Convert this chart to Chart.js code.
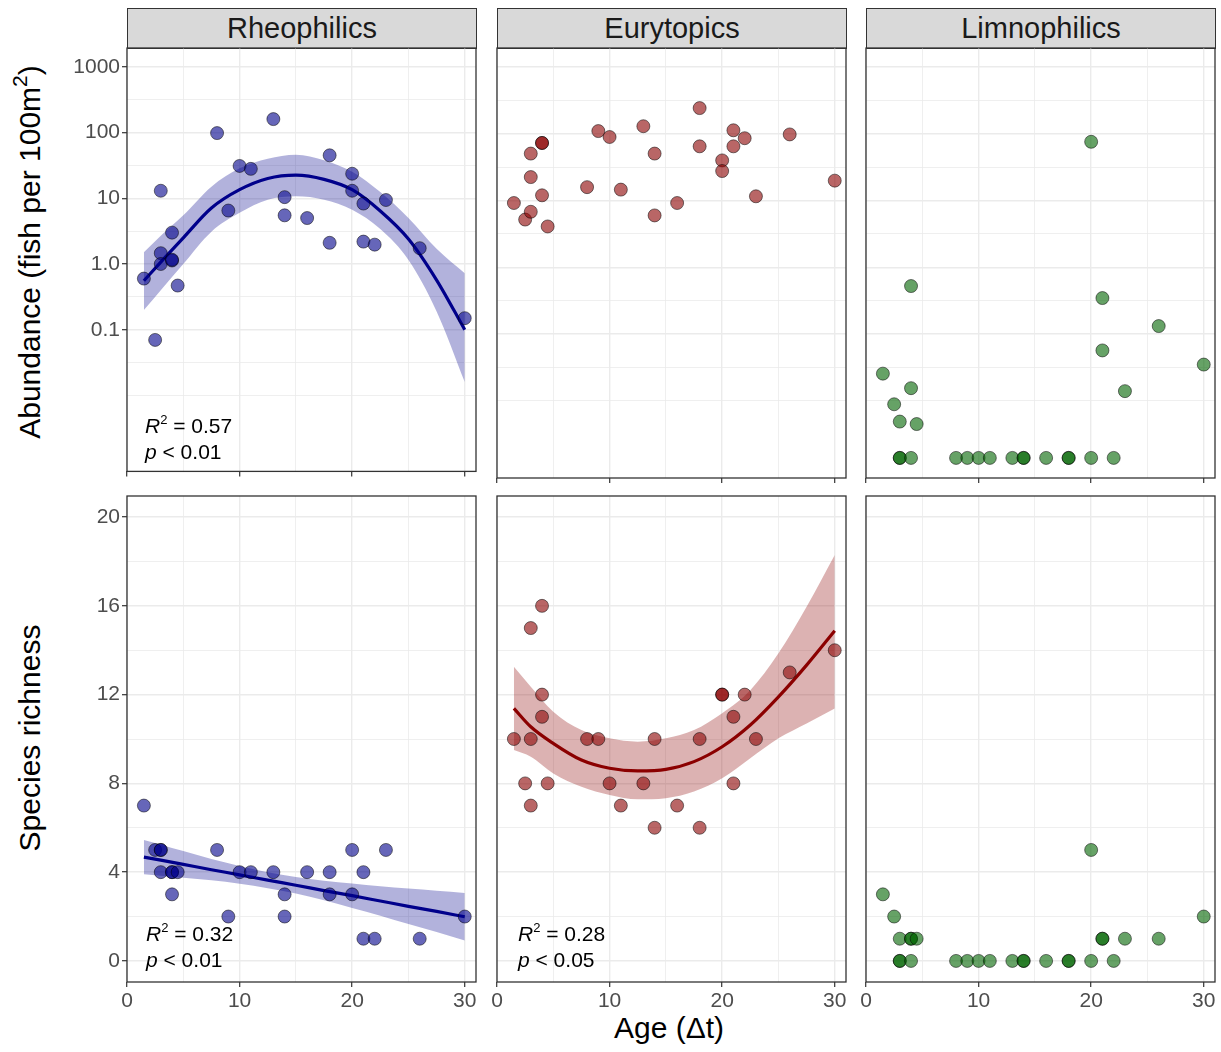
<!DOCTYPE html>
<html>
<head>
<meta charset="utf-8">
<script src="https://cdn.jsdelivr.net/npm/chart.js@4"></script>
<style>
  body { margin: 0; background: #fff; font-family: "Liberation Sans", Arial, sans-serif; }
  #fig { position: relative; width: 1221px; height: 1052px; overflow: hidden; background: #fff; }
  .strip { position: absolute; top: 8px; height: 41px; width: 350px; box-sizing: border-box;
           background: #d9d9d9; border: 1.3px solid #333; text-align: center;
           font-size: 29px; line-height: 39px; color: #1a1a1a; }
  .stat { position: absolute; font-size: 21px; line-height: 26px; color: #000; white-space: nowrap; }
  .stat sup { font-size: 13px; vertical-align: 9px; line-height: 0; }
  .ytitle { position: absolute; width: 500px; height: 40px; line-height: 40px; text-align: center;
            font-size: 30px; color: #000; transform: rotate(-90deg); white-space: nowrap; }
  .ytitle sup { font-size: 21px; vertical-align: 13px; line-height: 0; }
  .xtitle { position: absolute; font-size: 30px; color: #000; width: 300px; text-align: center; }
</style>
</head>
<body>
<div id="fig">
  <div class="strip" style="left:127px">Rheophilics</div>
  <div class="strip" style="left:497px">Eurytopics</div>
  <div class="strip" style="left:866px">Limnophilics</div>
  <div class="ytitle" style="left:-220px; top:232px">Abundance (fish per 100m<sup>2</sup>)</div>
  <div class="ytitle" style="left:-220px; top:718px">Species richness</div>
  <div class="xtitle" style="left:519px; top:1011px">Age (&Delta;t)</div>
</div>

<script>
// sites (age in years), same order for every group
const siteAges = [1.5, 2.5, 3, 3, 3, 4, 4, 4, 4.5, 8, 9, 10, 11, 13, 14, 14, 16, 18, 18, 20, 20, 21, 21, 22, 23, 26, 30];

// abundance, fish per 100 m2
const rheoAbundance = [0.60, 0.070, 13, 1.46, 1.0, 3.0, 1.13, 1.16, 0.47, 98, 6.5, 31, 28, 160, 10.4, 5.5, 5.0, 45, 2.1, 23.6, 13, 8.3, 2.19, 1.97, 9.4, 1.74, 0.15];
const euryAbundance = [9.2, 5.2, 6.8, 22.5, 50.6, 73, 73, 12, 4.1, 15.9, 110, 89.6, 14.6, 130, 50.6, 6.0, 9.2, 243, 65, 40, 27.7, 113, 65, 86, 11.6, 98, 19.9];
const limnoAbundance = [0.0256, 0.0089, 0.0049, 0, 0, 0.525, 0.0155, 0, 0.0045, 0, 0, 0, 0, 0, 0, 0, 0, 0, 0, 76, 0, 0.347, 0.057, 0, 0.014, 0.132, 0.035];

// species richness
const rheoRichness = [7, 5, 5, 5, 4, 4, 4, 3, 4, 5, 2, 4, 4, 4, 3, 2, 4, 4, 3, 5, 3, 4, 1, 1, 5, 1, 2];
const euryRichness = [10, 8, 15, 10, 7, 16, 12, 11, 8, 10, 10, 8, 7, 8, 10, 6, 7, 10, 6, 12, 12, 11, 8, 12, 10, 13, 14];
const limnoRichness = [3, 2, 1, 0, 0, 1, 1, 0, 1, 0, 0, 0, 0, 0, 0, 0, 0, 0, 0, 5, 0, 1, 1, 0, 1, 1, 2];

// fitted curves and 95% bands
const fitAges = [1.5, 3, 5, 7.5, 10, 12.5, 15, 17.5, 20, 22.5, 25, 27.5, 30];
const rheoAbundFit = [0.556, 1.07, 2.5, 7.1, 13.5, 20, 22.5, 19.4, 13.5, 6.4, 2.4, 0.57, 0.10];
const rheoAbundHigh = [1.51, 2.7, 5.5, 15, 28.5, 40, 46, 38, 25.3, 12.4, 5.0, 1.7, 0.72];
const rheoAbundLow = [0.20, 0.40, 1.0, 3.1, 6.0, 9.5, 10.7, 9.5, 6.7, 3.4, 1.15, 0.19, 0.016];
const rheoRichFit = [4.68, 4.54, 4.35, 4.11, 3.88, 3.64, 3.41, 3.17, 2.94, 2.70, 2.46, 2.23, 1.99];
const rheoRichHigh = [5.45, 5.24, 4.95, 4.59, 4.28, 4.00, 3.78, 3.61, 3.49, 3.36, 3.26, 3.16, 3.06];
const rheoRichLow = [3.91, 3.84, 3.75, 3.63, 3.48, 3.28, 3.04, 2.73, 2.39, 2.04, 1.66, 1.30, 0.92];
const euryRichFit = [11.38, 10.55, 9.8, 9.05, 8.68, 8.56, 8.63, 8.98, 9.65, 10.63, 11.9, 13.33, 14.88];
const euryRichHigh = [13.26, 12.36, 11.23, 10.4, 10.03, 9.88, 10.03, 10.4, 11.16, 12.2, 13.86, 15.96, 18.29];
const euryRichLow = [9.5, 9.2, 8.45, 7.85, 7.48, 7.28, 7.33, 7.63, 8.23, 9.13, 10.03, 10.7, 11.38];

// axes
const ageGrid = [0, 5, 10, 15, 20, 25, 30];
const ageLabels = ['0', '', '10', '', '20', '', '30'];
const abundGrid = [0.01, 0.0316, 0.1, 0.316, 1, 3.16, 10, 31.6, 100, 316, 1000];
const abundLabels = ['', '', '0.1', '', '1.0', '', '10', '', '100', '', '1000'];
const richGrid = [0, 2, 4, 6, 8, 10, 12, 14, 16, 18, 20];
const richLabels = ['0', '', '4', '', '8', '', '12', '', '16', '', '20'];
// zeros sit here on the log axis
const zeroOnLog = 0.0014;

Chart.defaults.font.family = "'Liberation Sans', Arial, sans-serif";

const fig = document.getElementById('fig');

const framePlugin = {
  id: 'frame',
  afterDraw: (chart) => {
    const { ctx, chartArea: a } = chart;
    ctx.save();
    ctx.strokeStyle = '#333333';
    ctx.lineWidth = 1.3;
    ctx.strokeRect(a.left, a.top, a.right - a.left, a.bottom - a.top);
    ctx.restore();
  }
};

const toPoints = (xs, ys, logAxis) => xs.map((x, i) => ({ x: x, y: (logAxis && ys[i] === 0) ? zeroOnLog : ys[i] }));

const pointSet = (xs, ys, fill, logAxis) => ({
  type: 'scatter',
  data: toPoints(xs, ys, logAxis),
  backgroundColor: fill,
  borderColor: 'rgba(0,0,0,0.5)',
  borderWidth: 1,
  pointRadius: 6.5,
  order: 1
});

const fitSets = (fit, low, high, lineColor, bandColor) => [
  {
    type: 'line', data: toPoints(fitAges, fit), borderColor: lineColor, borderWidth: 3.2,
    pointRadius: 0, fill: false, cubicInterpolationMode: 'monotone', order: 2
  },
  {
    type: 'line', data: toPoints(fitAges, high), borderWidth: 0, borderColor: 'rgba(0,0,0,0)',
    pointRadius: 0, fill: false, cubicInterpolationMode: 'monotone', order: 3
  },
  {
    type: 'line', data: toPoints(fitAges, low), borderWidth: 0, borderColor: 'rgba(0,0,0,0)',
    pointRadius: 0, fill: '-1', backgroundColor: bandColor, cubicInterpolationMode: 'monotone', order: 4
  }
];

const xScale = (showLabels, padB) => ({
  type: 'linear', min: 0, max: 31,
  afterBuildTicks: (s) => { s.ticks = ageGrid.map(v => ({ value: v })); },
  afterFit: (s) => { s.height = padB; },
  border: { display: false },
  grid: {
    color: '#ebebeb',
    lineWidth: (c) => ageLabels[c.index] ? 1.4 : 0.8,
    drawTicks: true,
    tickLength: 5,
    tickWidth: 1.2,
    tickColor: (c) => ageLabels[c.index] ? '#333333' : 'rgba(0,0,0,0)'
  },
  ticks: {
    display: showLabels, autoSkip: false, maxRotation: 0, padding: 2,
    color: '#4d4d4d', font: { size: 21 },
    callback: (v, i) => ageLabels[i]
  }
});

const yScale = (logAxis, showLabels, padL) => {
  const grid = logAxis ? abundGrid : richGrid;
  const labels = logAxis ? abundLabels : richLabels;
  return {
    type: logAxis ? 'logarithmic' : 'linear',
    min: logAxis ? 0.0007 : -0.95,
    max: logAxis ? 1930 : 20.95,
    afterBuildTicks: (s) => { s.ticks = grid.map(v => ({ value: v })); },
    afterFit: (s) => { s.width = padL; },
    border: { display: false },
    grid: {
      color: '#ebebeb',
      lineWidth: (c) => labels[c.index] ? 1.4 : 0.8,
      drawTicks: showLabels,
      tickLength: 5,
      tickWidth: 1.2,
      tickColor: (c) => labels[c.index] ? '#333333' : 'rgba(0,0,0,0)'
    },
    ticks: {
      display: showLabels, autoSkip: false, padding: 2,
      color: '#4d4d4d', font: { size: 21 },
      callback: (v, i) => labels[i]
    }
  };
};

// canvas is bigger than the panel so tick labels at the ends never push the plot area in
const makePanel = (left, top, width, height, firstCol, bottomRow, logAxis, datasets) => {
  const padL = firstCol ? left : 18;
  const padT = 18, padR = 18;
  const padB = bottomRow ? 40 : 8;
  const canvas = document.createElement('canvas');
  canvas.width = width + padL + padR;
  canvas.height = height + padT + padB;
  canvas.style.position = 'absolute';
  canvas.style.left = `${left - padL}px`;
  canvas.style.top = `${top - padT}px`;
  fig.appendChild(canvas);
  new Chart(canvas, {
    type: 'scatter',
    data: { datasets: datasets },
    options: {
      responsive: false,
      animation: false,
      events: [],
      layout: { padding: { top: padT, right: padR, left: 0, bottom: 0 } },
      plugins: { legend: { display: false }, tooltip: { enabled: false } },
      scales: { x: xScale(bottomRow, padB), y: yScale(logAxis, firstCol, padL) }
    },
    plugins: [framePlugin]
  });
};

const blueFill = 'rgba(0,0,139,0.6)';
const redFill = 'rgba(139,0,0,0.6)';
const greenFill = 'rgba(0,100,0,0.6)';
const blueBand = 'rgba(0,0,139,0.3)';
const redBand = 'rgba(139,0,0,0.3)';

const colLeft = [127, 497, 866];
const panelW = 349;

// abundance row
makePanel(colLeft[0], 48, panelW, 430, true, false, true,
  [pointSet(siteAges, rheoAbundance, blueFill, true)].concat(fitSets(rheoAbundFit, rheoAbundLow, rheoAbundHigh, '#00008b', blueBand)));
makePanel(colLeft[1], 48, panelW, 430, false, false, true,
  [pointSet(siteAges, euryAbundance, redFill, true)]);
makePanel(colLeft[2], 48, panelW, 430, false, false, true,
  [pointSet(siteAges, limnoAbundance, greenFill, true)]);

// richness row
makePanel(colLeft[0], 496, panelW, 486, true, true, false,
  [pointSet(siteAges, rheoRichness, blueFill, false)].concat(fitSets(rheoRichFit, rheoRichLow, rheoRichHigh, '#00008b', blueBand)));
makePanel(colLeft[1], 496, panelW, 486, false, true, false,
  [pointSet(siteAges, euryRichness, redFill, false)].concat(fitSets(euryRichFit, euryRichLow, euryRichHigh, '#8b0000', redBand)));
makePanel(colLeft[2], 496, panelW, 486, false, true, false,
  [pointSet(siteAges, limnoRichness, greenFill, false)]);

// model stats
const addStat = (left, top, r2, p) => {
  const d = document.createElement('div');
  d.className = 'stat';
  d.style.left = `${left}px`;
  d.style.top = `${top}px`;
  d.innerHTML = `<i>R</i><sup>2</sup> = ${r2}<br><i>p</i> &lt; ${p}`;
  fig.appendChild(d);
};
addStat(145, 413, '0.57', '0.01');
addStat(146, 921, '0.32', '0.01');
addStat(518, 921, '0.28', '0.05');
</script>
</body>
</html>
